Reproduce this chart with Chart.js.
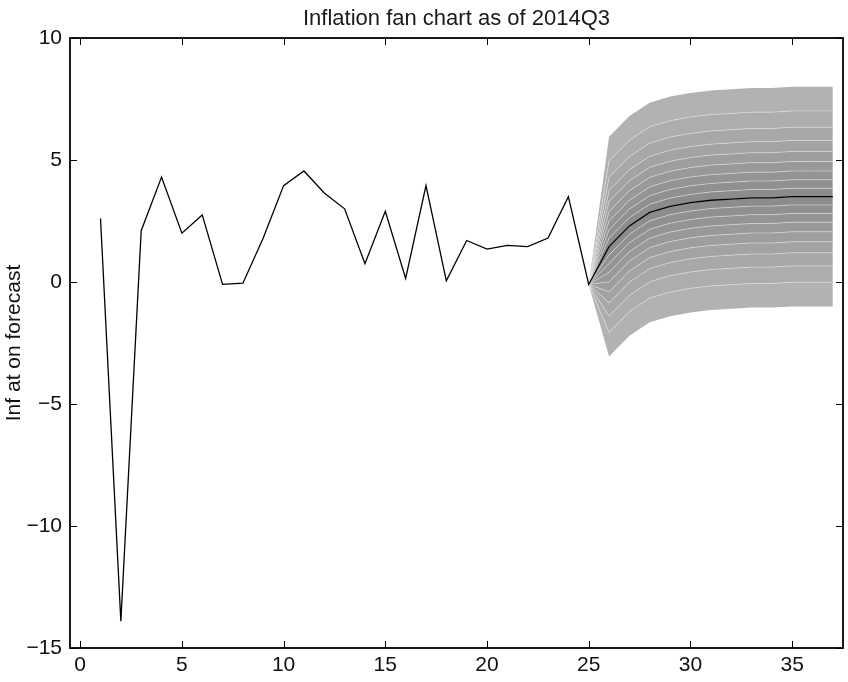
<!DOCTYPE html>
<html>
<head>
<meta charset="utf-8">
<script src="https://cdn.jsdelivr.net/npm/chart.js@4.4.1/dist/chart.umd.min.js"></script>
<style>
  html, body { margin: 0; padding: 0; background: #fff; }
  #wrap { width: 848px; height: 682px; }
</style>
</head>
<body>
<div id="wrap"><canvas id="fan-chart"></canvas></div>
<script>
// history: quarters 1..25
const HIST_START = 1;
const historyValues = [2.6, -13.9, 2.1, 4.3, 2.0, 2.75, -0.1, -0.05, 1.8, 3.95, 4.55, 3.65, 3.0,
  0.75, 2.9, 0.15, 3.95, 0.05, 1.7, 1.35, 1.5, 1.45, 1.8, 3.5, -0.1];

// forecast: quarters 25..37
const FAN_START = 25;
const medianValues = [-0.1, 1.45, 2.3, 2.85, 3.1, 3.25, 3.35, 3.4, 3.45, 3.45, 3.5, 3.5, 3.5];

// fan quantile paths, lowest (5%) to highest (95%), median excluded
const q05 = [-0.1, -3.05, -2.2, -1.65, -1.4, -1.25, -1.15, -1.1, -1.05, -1.05, -1.0, -1.0, -1.0];
const q10 = [-0.1, -2.06, -1.21, -0.66, -0.41, -0.26, -0.16, -0.11, -0.06, -0.06, -0.01, -0.01, -0.01];
const q15 = [-0.1, -1.39, -0.54, 0.01, 0.26, 0.41, 0.51, 0.56, 0.61, 0.61, 0.66, 0.66, 0.66];
const q20 = [-0.1, -0.85, 0.0, 0.55, 0.8, 0.95, 1.05, 1.1, 1.15, 1.15, 1.2, 1.2, 1.2];
const q25 = [-0.1, -0.4, 0.45, 1.0, 1.25, 1.4, 1.5, 1.55, 1.6, 1.6, 1.65, 1.65, 1.65];
const q30 = [-0.1, 0.01, 0.86, 1.41, 1.66, 1.81, 1.91, 1.96, 2.01, 2.01, 2.06, 2.06, 2.06];
const q35 = [-0.1, 0.4, 1.25, 1.8, 2.05, 2.2, 2.3, 2.35, 2.4, 2.4, 2.45, 2.45, 2.45];
const q40 = [-0.1, 0.76, 1.61, 2.16, 2.41, 2.56, 2.66, 2.71, 2.76, 2.76, 2.81, 2.81, 2.81];
const q45 = [-0.1, 1.11, 1.96, 2.51, 2.76, 2.91, 3.01, 3.06, 3.11, 3.11, 3.16, 3.16, 3.16];
const q55 = [-0.1, 1.79, 2.64, 3.19, 3.44, 3.59, 3.69, 3.74, 3.79, 3.79, 3.84, 3.84, 3.84];
const q60 = [-0.1, 2.14, 2.99, 3.54, 3.79, 3.94, 4.04, 4.09, 4.14, 4.14, 4.19, 4.19, 4.19];
const q65 = [-0.1, 2.5, 3.35, 3.9, 4.15, 4.3, 4.4, 4.45, 4.5, 4.5, 4.55, 4.55, 4.55];
const q70 = [-0.1, 2.89, 3.74, 4.29, 4.54, 4.69, 4.79, 4.84, 4.89, 4.89, 4.94, 4.94, 4.94];
const q75 = [-0.1, 3.3, 4.15, 4.7, 4.95, 5.1, 5.2, 5.25, 5.3, 5.3, 5.35, 5.35, 5.35];
const q80 = [-0.1, 3.75, 4.6, 5.15, 5.4, 5.55, 5.65, 5.7, 5.75, 5.75, 5.8, 5.8, 5.8];
const q85 = [-0.1, 4.29, 5.14, 5.69, 5.94, 6.09, 6.19, 6.24, 6.29, 6.29, 6.34, 6.34, 6.34];
const q90 = [-0.1, 4.96, 5.81, 6.36, 6.61, 6.76, 6.86, 6.91, 6.96, 6.96, 7.01, 7.01, 7.01];
const q95 = [-0.1, 5.95, 6.8, 7.35, 7.6, 7.75, 7.85, 7.9, 7.95, 7.95, 8.0, 8.0, 8.0];

const xTicks = [0, 5, 10, 15, 20, 25, 30, 35];
const yTicks = [-15, -10, -5, 0, 5, 10];

const TITLE = 'Inflation fan chart as of 2014Q3';
const Y_LABEL = 'Inf at on forecast';

// band shades, outermost first
const BAND_SHADES = ['#b2b2b4', '#adadaf', '#a8a8aa', '#a3a3a5', '#9e9ea0',
  '#99999b', '#949496', '#909092', '#8c8c8e'];

const FONT = 'Liberation Sans, Arial, Helvetica, sans-serif';

function toPoints(values, start) {
  return values.map((v, i) => ({ x: start + i, y: v }));
}

function fmt(v) {
  return v < 0 ? '\u2212' + Math.abs(v) : String(v);
}

const fanPaths = [q05, q10, q15, q20, q25, q30, q35, q40, q45, medianValues,
  q55, q60, q65, q70, q75, q80, q85, q90, q95];

const lastBand = fanPaths.length - 1;
const fanDatasets = fanPaths.map((path, k) => {
  const shade = k === 0 ? 'transparent' : BAND_SHADES[Math.min(k - 1, lastBand - k)];
  const inner = k > 0 && k < lastBand;
  return {
    data: toPoints(path, FAN_START),
    borderColor: inner ? 'rgba(232,232,232,0.65)' : 'transparent',
    borderWidth: inner ? 0.8 : 0,
    backgroundColor: shade,
    fill: k === 0 ? false : '-1',
    pointRadius: 0,
    tension: 0,
  };
});

const mainLine = {
  data: toPoints(historyValues, HIST_START).concat(toPoints(medianValues.slice(1), FAN_START + 1)),
  borderColor: '#000',
  borderWidth: 1.3,
  pointRadius: 0,
  fill: false,
  tension: 0,
};

// box, inward ticks on all four sides, title centred over the axes
const matlabFrame = {
  id: 'matlabFrame',
  afterDatasetsDraw(chart) {
    const { ctx, chartArea: a, scales: { x, y } } = chart;
    const len = 7;
    ctx.save();
    ctx.strokeStyle = '#000';
    ctx.lineWidth = 1;
    ctx.beginPath();
    x.ticks.forEach((t) => {
      const px = Math.round(x.getPixelForValue(t.value)) + 0.5;
      ctx.moveTo(px, a.bottom); ctx.lineTo(px, a.bottom - len);
      ctx.moveTo(px, a.top); ctx.lineTo(px, a.top + len);
    });
    y.ticks.forEach((t) => {
      const py = Math.round(y.getPixelForValue(t.value)) + 0.5;
      ctx.moveTo(a.left, py); ctx.lineTo(a.left + len, py);
      ctx.moveTo(a.right, py); ctx.lineTo(a.right - len, py);
    });
    ctx.stroke();
    ctx.lineWidth = 1.8;
    ctx.strokeRect(a.left, a.top, a.right - a.left, a.bottom - a.top);

    ctx.fillStyle = '#1a1a1a';
    ctx.font = `22px ${FONT}`;
    ctx.textAlign = 'center';
    ctx.textBaseline = 'alphabetic';
    ctx.fillText(TITLE, (a.left + a.right) / 2, 25);
    ctx.restore();
  },
};

new Chart(document.getElementById('fan-chart').getContext('2d'), {
  type: 'line',
  data: { datasets: [mainLine, ...fanDatasets] },
  options: {
    responsive: true,
    maintainAspectRatio: false,
    animation: false,
    layout: { padding: { top: 38, right: 5, left: 0, bottom: 0 } },
    plugins: {
      legend: { display: false },
      tooltip: { enabled: false },
      filler: { drawTime: 'beforeDatasetsDraw' },
      title: { display: false },
    },
    scales: {
      x: {
        type: 'linear',
        min: -0.5,
        max: 37.5,
        afterBuildTicks: (scale) => { scale.ticks = xTicks.map((v) => ({ value: v })); },
        afterFit: (scale) => { scale.height = 34; },
        grid: { display: false, drawTicks: false },
        border: { display: false },
        ticks: {
          color: '#111',
          padding: 5,
          maxRotation: 0,
          font: { family: FONT, size: 21 },
          callback: (v) => fmt(v),
        },
      },
      y: {
        type: 'linear',
        min: -15,
        max: 10,
        afterBuildTicks: (scale) => { scale.ticks = yTicks.map((v) => ({ value: v })); },
        afterFit: (scale) => { scale.width = 70; },
        grid: { display: false, drawTicks: false },
        border: { display: false },
        title: {
          display: true,
          text: Y_LABEL,
          color: '#111',
          font: { family: FONT, size: 21 },
          padding: { top: 2, bottom: 0 },
        },
        ticks: {
          color: '#111',
          padding: 8,
          font: { family: FONT, size: 21 },
          callback: (v) => fmt(v),
        },
      },
    },
  },
  plugins: [matlabFrame],
});
</script>
</body>
</html>
